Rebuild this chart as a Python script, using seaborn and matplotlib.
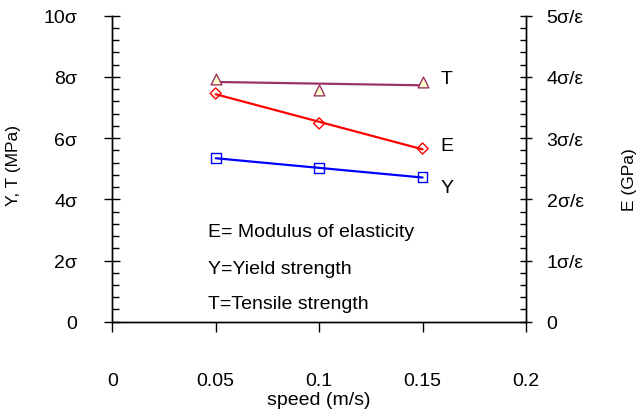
import numpy as np
import pandas as pd
import seaborn as sns
import matplotlib.pyplot as plt
from matplotlib.ticker import MultipleLocator

# values (left axis in sigma units, right axis in sigma/eps)
speed = [0.05, 0.1, 0.15]
tensile = [7.94, 7.57, 7.83]
yield_str = [5.35, 5.01, 4.72]
modulus = [3.73, 3.24, 2.83]

left_ticks = [0, 2, 4, 6, 8, 10]
left_labels = ['0', '2σ', '4σ', '6σ', '8σ', '10σ']
right_ticks = [0, 1, 2, 3, 4, 5]
right_labels = ['0', '1σ/ε', '2σ/ε', '3σ/ε', '4σ/ε', '5σ/ε']
x_ticks = [0, 0.05, 0.1, 0.15, 0.2]
x_labels = ['0', '0.05', '0.1', '0.15', '0.2']

sns.set_style('ticks', {'axes.edgecolor': 'black', 'xtick.color': 'black',
                        'ytick.color': 'black', 'text.color': 'black',
                        'axes.labelcolor': 'black'})
plt.rcParams['font.family'] = ['Liberation Sans', 'DejaVu Sans']
plt.rcParams['font.size'] = 14

df = pd.DataFrame({'speed': speed, 'T': tensile, 'Y': yield_str, 'E': modulus})

T_COL = '#993366'
E_COL = '#ff0000'
Y_COL = '#0000ff'

fig = plt.figure(figsize=(6.36, 4.10), dpi=100)
ax = fig.add_axes([112.3 / 636, (410 - 322.7) / 410, (526 - 112.3) / 636, (322.7 - 16.7) / 410])
ax2 = ax.twinx()

sns.regplot(data=df, x='speed', y='T', ci=None, ax=ax, marker='^', color=T_COL,
            scatter_kws={'s': 60, 'facecolor': '#ffffcc', 'edgecolor': T_COL,
                         'linewidths': 1, 'alpha': 1, 'zorder': 3},
            line_kws={'lw': 1.6})
sns.regplot(data=df, x='speed', y='Y', ci=None, ax=ax, marker='s', color=Y_COL,
            scatter_kws={'s': 50, 'facecolor': 'none', 'edgecolor': Y_COL,
                         'linewidths': 1, 'alpha': 1, 'zorder': 3},
            line_kws={'lw': 1.6})
sns.regplot(data=df, x='speed', y='E', ci=None, ax=ax2, marker='D', color=E_COL,
            scatter_kws={'s': 32, 'facecolor': 'none', 'edgecolor': E_COL,
                         'linewidths': 1, 'alpha': 1, 'zorder': 3},
            line_kws={'lw': 1.6})

ax.set_xlim(0, 0.2)
ax.set_ylim(0, 10)
ax2.set_ylim(0, 5)

ax.set_xticks(x_ticks, x_labels)
ax.set_yticks(left_ticks, left_labels)
ax.yaxis.set_minor_locator(MultipleLocator(0.4))
ax2.set_yticks(right_ticks, right_labels)
ax2.yaxis.set_minor_locator(MultipleLocator(0.2))

ax.tick_params(axis='x', which='major', direction='out', length=7.2, width=1, pad=29, labelsize=14)
ax.tick_params(axis='y', which='major', direction='inout', length=11.5, width=1, pad=19.5, labelsize=14)
ax.tick_params(axis='y', which='minor', direction='in', length=5, width=1)
ax2.tick_params(axis='y', which='major', direction='inout', length=8.6, width=1, pad=10.6, labelsize=14)
ax2.tick_params(axis='y', which='minor', direction='in', length=4.3, width=1)

for a in (ax, ax2):
    a.spines['top'].set_visible(False)
    for s in a.spines.values():
        s.set_linewidth(1)

ax.set_xlabel('speed (m/s)', fontsize=14)
ax.xaxis.set_label_coords(0.5, -0.2265)
ax.set_ylabel('Y, T (MPa)', fontsize=12.5)
ax.yaxis.set_label_coords(-0.2195, 0.515)
ax2.set_ylabel('E (GPa)', fontsize=12.5)
ax2.yaxis.set_label_coords(1.232, 0.466)

# series tags at the right end of the lines
ax.text(0.1588, 7.96, 'T', fontsize=14, ha='left', va='center')
ax.text(0.1588, 5.77, 'E', fontsize=14, ha='left', va='center')
ax.text(0.1588, 4.38, 'Y', fontsize=14, ha='left', va='center')

# legend-like notes
ax.text(0.0463, 2.79, 'E= Modulus of elasticity', fontsize=14, ha='left', va='baseline')
ax.text(0.0463, 1.59, 'Y=Yield strength', fontsize=14, ha='left', va='baseline')
ax.text(0.0463, 0.44, 'T=Tensile strength', fontsize=14, ha='left', va='baseline')

fig.savefig('out.png', dpi=100)
